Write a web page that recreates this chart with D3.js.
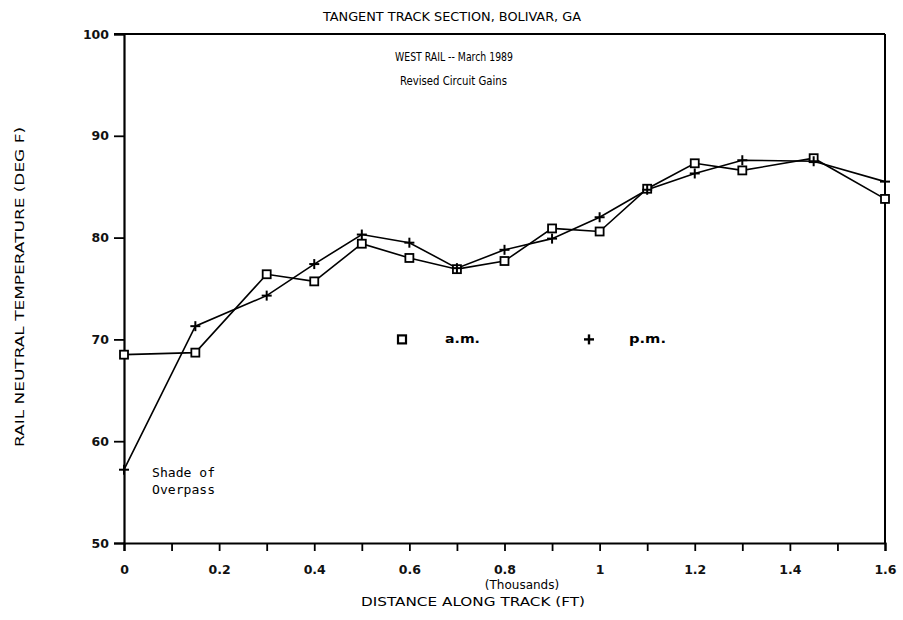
<!DOCTYPE html>
<html>
<head>
<meta charset="utf-8">
<script src="https://cdn.jsdelivr.net/npm/d3@7"></script>
<style>
  html, body { margin: 0; padding: 0; background: #fff; }
  svg { display: block; }
</style>
</head>
<body>
<svg id="chart" width="903" height="620"></svg>
<script>
// ---- data ----
const distances = [0, 0.15, 0.3, 0.4, 0.5, 0.6, 0.7, 0.8, 0.9, 1.0, 1.1, 1.2, 1.3, 1.45, 1.6];
const amValues  = [68.5, 68.7, 76.4, 75.7, 79.4, 78.0, 76.9, 77.7, 80.9, 80.6, 84.8, 87.3, 86.6, 87.8, 83.8];
const pmValues  = [57.2, 71.3, 74.3, 77.4, 80.3, 79.5, 77.0, 78.8, 79.9, 82.0, 84.7, 86.3, 87.6, 87.5, 85.5];
const xTickValues = [0, 0.2, 0.4, 0.6, 0.8, 1.0, 1.2, 1.4, 1.6];
const xTickLabels = ["0", "0.2", "0.4", "0.6", "0.8", "1", "1.2", "1.4", "1.6"];
const xMinorTicks = [0, 0.1, 0.2, 0.3, 0.4, 0.5, 0.6, 0.7, 0.8, 0.9, 1.0, 1.1, 1.2, 1.3, 1.4, 1.5, 1.6];
const yTickValues = [50, 60, 70, 80, 90, 100];
const legendItems = ["a.m.", "p.m."];

const svg = d3.select("#chart");
const L = 124, R = 885, T = 34, B = 543;

const x = d3.scaleLinear().domain([0, 1.6]).range([L, R]);
const y = d3.scaleLinear().domain([50, 100]).range([B, T]);

const font = "'DejaVu Sans', sans-serif";

// frame (top and right)
svg.append("line").attr("x1", L - 10).attr("x2", R).attr("y1", T).attr("y2", T)
  .attr("stroke", "#000").attr("stroke-width", 2);
svg.append("line").attr("x1", R).attr("x2", R).attr("y1", T).attr("y2", B)
  .attr("stroke", "#000").attr("stroke-width", 2);

// x axis
const xAxisMinor = d3.axisBottom(x).tickValues(xMinorTicks).tickSize(8).tickFormat("");
const gxm = svg.append("g").attr("transform", `translate(0,${B})`).call(xAxisMinor);
gxm.select(".domain").attr("stroke-width", 2.2);
gxm.selectAll(".tick line").attr("stroke-width", 1.8);

const xAxis = d3.axisBottom(x).tickValues(xTickValues).tickSize(0).tickPadding(22)
  .tickFormat((d, i) => xTickLabels[i]);
const gx = svg.append("g").attr("transform", `translate(0,${B})`).call(xAxis);
gx.select(".domain").remove();
gx.selectAll("text").attr("font-family", font).attr("font-size", 12.5)
  .attr("font-weight", "bold").attr("fill", "#111");

// y axis
const yAxis = d3.axisLeft(y).tickValues(yTickValues).tickSize(10).tickPadding(5);
const gy = svg.append("g").attr("transform", `translate(${L},0)`).call(yAxis);
gy.select(".domain").attr("stroke-width", 2.2);
gy.selectAll(".tick line").attr("stroke-width", 1.8);
gy.selectAll("text").attr("font-family", font).attr("font-size", 12.5)
  .attr("font-weight", "bold").attr("fill", "#111");

// lines
const line = d3.line().x(d => x(d[0])).y(d => y(d[1]));
const amData = distances.map((d, i) => [d, amValues[i]]);
const pmData = distances.map((d, i) => [d, pmValues[i]]);

svg.append("path").datum(amData).attr("d", line)
  .attr("fill", "none").attr("stroke", "#000").attr("stroke-width", 1.6);
svg.append("path").datum(pmData).attr("d", line)
  .attr("fill", "none").attr("stroke", "#000").attr("stroke-width", 1.6);

// markers
const sq = 8;
svg.append("g").selectAll("rect").data(amData).join("rect")
  .attr("x", d => x(d[0]) - sq / 2).attr("y", d => y(d[1]) - sq / 2)
  .attr("width", sq).attr("height", sq)
  .attr("fill", "#fff").attr("stroke", "#000").attr("stroke-width", 1.8);

const pl = 5;
const pg = svg.append("g");
pmData.forEach(d => {
  const cx = x(d[0]), cy = y(d[1]);
  pg.append("line").attr("x1", cx - pl).attr("x2", cx + pl).attr("y1", cy).attr("y2", cy)
    .attr("stroke", "#000").attr("stroke-width", 2);
  pg.append("line").attr("x1", cx).attr("x2", cx).attr("y1", cy - pl).attr("y2", cy + pl)
    .attr("stroke", "#000").attr("stroke-width", 2);
});

// legend
const ly = y(70);
svg.append("rect").attr("x", 398).attr("y", ly - 4).attr("width", 8).attr("height", 8)
  .attr("fill", "#fff").attr("stroke", "#000").attr("stroke-width", 2.2);
svg.append("text").attr("x", 445).attr("y", ly + 4).text(legendItems[0])
  .attr("textLength", 35).attr("lengthAdjust", "spacingAndGlyphs")
  .attr("font-family", font).attr("font-size", 12.5).attr("font-weight", "bold");
svg.append("line").attr("x1", 584).attr("x2", 594).attr("y1", ly).attr("y2", ly)
  .attr("stroke", "#000").attr("stroke-width", 2.4);
svg.append("line").attr("x1", 589).attr("x2", 589).attr("y1", ly - 5).attr("y2", ly + 5)
  .attr("stroke", "#000").attr("stroke-width", 2.4);
svg.append("text").attr("x", 629).attr("y", ly + 4).text(legendItems[1])
  .attr("textLength", 37).attr("lengthAdjust", "spacingAndGlyphs")
  .attr("font-family", font).attr("font-size", 12.5).attr("font-weight", "bold");

// titles
const condensed = "'DejaVu Sans Condensed', 'DejaVu Sans', sans-serif";
svg.append("text").attr("x", 323).attr("y", 21)
  .attr("textLength", 258).attr("lengthAdjust", "spacingAndGlyphs")
  .attr("font-family", condensed).attr("font-size", 13)
  .text("TANGENT TRACK SECTION, BOLIVAR, GA");
svg.append("text").attr("x", 395).attr("y", 61)
  .attr("textLength", 118).attr("lengthAdjust", "spacingAndGlyphs")
  .attr("font-family", condensed).attr("font-size", 12)
  .text("WEST RAIL -- March 1989");
svg.append("text").attr("x", 400).attr("y", 85)
  .attr("textLength", 107).attr("lengthAdjust", "spacingAndGlyphs")
  .attr("font-family", condensed).attr("font-size", 12)
  .text("Revised Circuit Gains");

// annotation
const mono = "'DejaVu Sans Mono', monospace";
svg.append("text").attr("x", 152).attr("y", 477).attr("font-family", mono).attr("font-size", 12)
  .attr("textLength", 63).attr("lengthAdjust", "spacingAndGlyphs")
  .text("Shade of");
svg.append("text").attr("x", 152).attr("y", 494).attr("font-family", mono).attr("font-size", 12)
  .attr("textLength", 63).attr("lengthAdjust", "spacingAndGlyphs")
  .text("Overpass");

// axis titles
svg.append("text").attr("x", 522).attr("y", 589).attr("text-anchor", "middle")
  .attr("font-family", font).attr("font-size", 12)
  .text("(Thousands)");
svg.append("text").attr("x", 361).attr("y", 606)
  .attr("textLength", 224).attr("lengthAdjust", "spacingAndGlyphs")
  .attr("font-family", font).attr("font-size", 12)
  .text("DISTANCE ALONG TRACK (FT)");
svg.append("text")
  .attr("transform", "translate(24,447) rotate(-90)")
  .attr("textLength", 320).attr("lengthAdjust", "spacingAndGlyphs")
  .attr("font-family", font).attr("font-size", 12)
  .text("RAIL NEUTRAL TEMPERATURE (DEG F)");
</script>
</body>
</html>
